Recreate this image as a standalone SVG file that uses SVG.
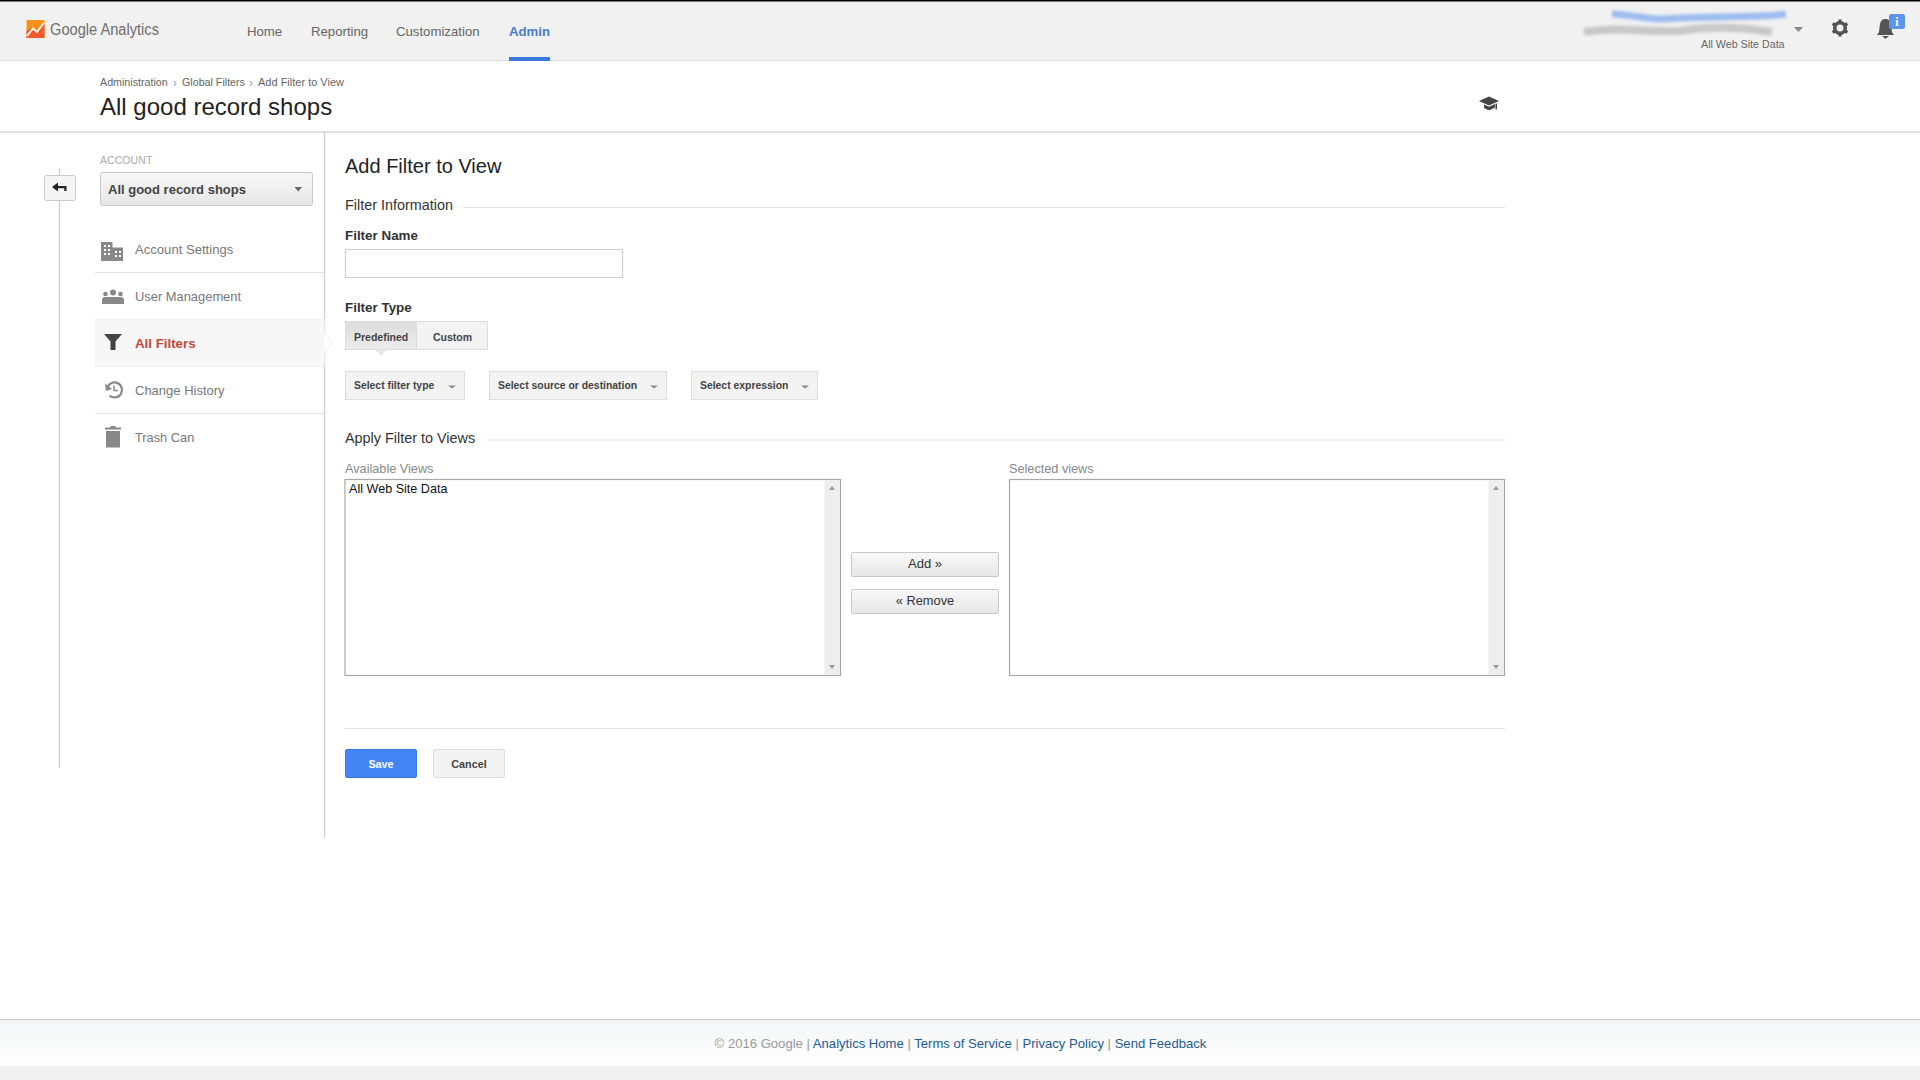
<svg xmlns="http://www.w3.org/2000/svg" width="1920" height="1080" viewBox="0 0 1920 1080">
<style>
text{font-family:"Liberation Sans",Arial,sans-serif}
.nav{font-size:13.2px;fill:#666}
.crumb{font-size:10.7px;fill:#666}
.side{font-size:13.1px;fill:#777}
.h{font-size:14.4px;fill:#333}
.lab{font-size:13.4px;font-weight:bold;fill:#333}
.btn{font-size:10.4px;font-weight:bold;fill:#444}
.sm{font-size:12.7px;fill:#888}
.rule{stroke:#e2e2e2;stroke-width:1;fill:none}
.vrule{stroke:#ccc;stroke-width:1.2;fill:none}
.dd{fill:#f3f3f3;stroke:#dcdcdc;stroke-width:1}
.gbtn{fill:url(#btnG);stroke:#c8c8c8;stroke-width:1}
.box{fill:#fff;stroke:#a8a8a8;stroke-width:1.2}
.sb{fill:#eee}
.car{fill:#888}
.sic{fill:#888}
.link{fill:#1f5a92}
</style>
<defs>
<linearGradient id="btnG" x1="0" y1="0" x2="0" y2="1"><stop offset="0" stop-color="#f8f8f8"/><stop offset="1" stop-color="#e6e6e6"/></linearGradient>
<linearGradient id="footG" x1="0" y1="0" x2="0" y2="1"><stop offset="0" stop-color="#f4f5f6"/><stop offset="1" stop-color="#fff"/></linearGradient>
<linearGradient id="predG" x1="0" y1="0" x2="0" y2="1"><stop offset="0" stop-color="#dcdcdc"/><stop offset="1" stop-color="#ececec"/></linearGradient>
<filter id="blur" x="-10%" y="-100%" width="120%" height="300%"><feGaussianBlur stdDeviation="1.8"/></filter>
</defs>
<rect width="1920" height="1080" fill="#fff"/>

<g id="header">
<rect width="1920" height="61" fill="#f1f1f1"/>
<rect width="1920" height="1.5" fill="#000"/>
<rect y="60" width="1920" height="1" fill="#ddd"/>
<g id="logo">
<rect x="26.500" y="20" width="18" height="18" fill="#f6911e"/>
<path d="M26.500 38v-7l6-3 4 3 8-9v16z" fill="#f1582c"/>
<path d="M27 36l6-7.500 4 3.500 7-9" fill="none" stroke="#fff" stroke-width="1.800"/>
<text x="50" y="35" font-size="16" fill="#6e6e6e" textLength="109" lengthAdjust="spacingAndGlyphs">Google Analytics</text>
</g>
<text class="nav" x="247" y="36">Home</text>
<text class="nav" x="311" y="36">Reporting</text>
<text class="nav" x="396" y="36">Customization</text>
<text class="nav" x="509" y="36" font-weight="bold" style="fill:#4a7bd0">Admin</text>
<rect x="509" y="57" width="41" height="4" fill="#3a78dc"/>
<g id="account-smear" filter="url(#blur)">
<path d="M1612 14C1636 15 1650 20 1665 19C1700 15 1750 19 1786 14" fill="none" stroke="#9cbcf0" stroke-width="7"/>
<path d="M1584 32C1620 26 1650 33 1680 31C1710 26 1740 27 1772 32" fill="none" stroke="#c8c8c8" stroke-width="8"/>
</g>
<text x="1701" y="48.300" font-size="10.700" fill="#666">All Web Site Data</text>
<path d="M1794 27h9l-4.500 5z" class="car"/>
<g id="gear"><circle cx="1840" cy="28" r="5.300" fill="none" stroke="#555" stroke-width="3.600"/>
<path d="M1840 19.500v3M1840 33.500v3M1832.600 23.700l2.600 1.500M1844.800 30.800l2.600 1.500M1832.600 32.300l2.600-1.500M1844.800 25.200l2.600-1.500" stroke="#555" stroke-width="3.200"/></g>
<g id="bell"><path d="M1877 35c3-3 2-6 3-11 .8-4 3-5 5.500-5s4.700 1 5.500 5c1 5 0 8 3 11z" fill="#555"/><path d="M1882 36h7l-3.500 3z" fill="#555"/>
<rect x="1889" y="14" width="16" height="15" rx="2.500" fill="#5b94ec"/><text x="1897" y="26" font-size="12" font-weight="bold" fill="#fff" text-anchor="middle" style="font-family:'Liberation Serif',serif">i</text></g>
</g>

<g id="titlebar">
<text class="crumb" x="100" y="86">Administration</text>
<path d="M174 81l2 2.500-2 2.500" fill="none" stroke="#888"/>
<text class="crumb" x="182" y="86">Global Filters</text>
<path d="M250 81l2 2.500-2 2.500" fill="none" stroke="#888"/>
<text class="crumb" x="258" y="86" style="font-size:11px">Add Filter to View</text>
<text x="100" y="115" font-size="24" fill="#222">All good record shops</text>
<path id="mortarboard" d="M1479 101l10-4.500 10 4.500-10 4.500zM1484 104.500l5 2.300 6-2.700v3.500l-5 2.400h-2l-4-2zM1495.500 103.500h1.500v6h-1.500z" fill="#444"/>
<rect y="131.500" width="1920" height="1.200" fill="#ccc"/>
</g>

<g id="sidebar">
<path class="vrule" d="M59.500 168V768M324.500 132V333M324.500 353V837"/>
<g id="back"><rect x="44.500" y="175.500" width="31" height="25" rx="2" fill="#f5f5f5" stroke="#ccc"/>
<path d="M52 187l6-4.500v3.500h8.500v5h-2.200v-2.800h-6.300v3.300z" fill="#222"/></g>
<text x="100" y="164" font-size="10.600" fill="#aaa">ACCOUNT</text>
<g id="account-select"><rect x="100.500" y="172.500" width="212" height="33" rx="2" fill="url(#btnG)" stroke="#c8c8c8"/>
<text x="108" y="194" font-size="13" font-weight="bold" fill="#444">All good record shops</text>
<path d="M294.500 187h7.500l-3.700 4.500z" fill="#666"/></g>
<path class="rule" d="M95 272.500H324M95 413.500H324"/>
<rect x="95" y="319" width="229.500" height="47.500" fill="#f7f7f7"/>
<path d="M324.500 333l8 10-8 10z" fill="#fff"/>
<path d="M95 319.500H324M95 366.500H324" fill="none" stroke="#eee"/>
<path d="M324.500 333l8 10-8 10" fill="none" stroke="#eee"/>
<g id="item-account"><path class="sic" fill-rule="evenodd" d="M101 242h11.500v5.500h10.500v13.500h-22zM104 245v2h2v-2zM108 245v2h2v-2zM104 249v2h2v-2zM108 249v2h2v-2zM104 253v2h2v-2zM108 253v2h2v-2zM115 251v2h2v-2zM119 251v2h2v-2zM115 255v2h2v-2zM119 255v2h2v-2z"/>
<text class="side" x="135" y="254">Account Settings</text></g>
<g id="item-users"><g class="sic"><circle cx="113" cy="292.500" r="3"/><circle cx="105.500" cy="294" r="2.300"/><circle cx="120.500" cy="294" r="2.300"/><path d="M102 304v-4q0-3 3-3h15q4 0 4 3v4z"/></g>
<text class="side" x="135" y="301" style="font-size:12.900px">User Management</text></g>
<g id="item-filters"><path d="M104 334h18l-6.500 7.500v8.500h-5v-8.500z" fill="#444"/>
<text x="135" y="348.300" font-size="13.300" font-weight="bold" fill="#c5473b">All Filters</text></g>
<g id="item-history"><path d="M107 390a7.500 7.500 0 1 1 2.500 5.500" fill="none" stroke="#888" stroke-width="2.200"/><path d="M105 383.500l1 7.500 6-2z" class="sic"/><path d="M114 385.500v5h4" fill="none" stroke="#888" stroke-width="1.500"/>
<text class="side" x="135" y="395" style="font-size:13px">Change History</text></g>
<g id="item-trash"><path class="sic" d="M106 431h14v16.500h-14zM105 427.500h5l1-1.500h4l1 1.500h5v2h-16z"/>
<text class="side" x="135" y="442" style="font-size:12.800px">Trash Can</text></g>
</g>

<g id="form">
<text x="345" y="172.700" font-size="20" fill="#222">Add Filter to View</text>
<text class="h" x="345" y="210">Filter Information</text>
<path class="rule" d="M463 207.500H1505"/>
<text class="lab" x="345" y="240">Filter Name</text>
<rect x="345.500" y="249.500" width="277" height="28" fill="#fff" stroke="#ccc"/>
<text class="lab" x="345" y="312">Filter Type</text>
<g id="filter-type">
<rect x="345.500" y="321.500" width="142" height="28" fill="#f3f3f3" stroke="#dcdcdc"/>
<rect x="345.500" y="321.500" width="71" height="28" fill="url(#predG)" stroke="#dcdcdc"/>
<path d="M375 349.500h12l-6 6.500z" fill="#e6e6e6"/>
<text class="btn" x="354" y="341" style="font-size:10.500px">Predefined</text>
<text class="btn" x="433" y="341" style="font-size:10.500px">Custom</text>
</g>
<g id="sel-type"><rect class="dd" x="345.500" y="371.500" width="119" height="28"/><text class="btn" x="354" y="389">Select filter type</text><path class="car" d="M448 385.500h8l-4 3z"/></g>
<g id="sel-source"><rect class="dd" x="489.500" y="371.500" width="177" height="28"/><text class="btn" x="498" y="389">Select source or destination</text><path class="car" d="M650 385.500h8l-4 3z"/></g>
<g id="sel-expr"><rect class="dd" x="691.500" y="371.500" width="126" height="28"/><text class="btn" x="700" y="389">Select expression</text><path class="car" d="M801 385.500h8l-4 3z"/></g>
<text class="h" x="345" y="442.700">Apply Filter to Views</text>
<path class="rule" d="M485.700 440H1505"/>
<text class="sm" x="345" y="472.700">Available Views</text>
<g id="avail"><rect class="box" x="345" y="479.500" width="495.500" height="196"/><rect class="sb" x="824.500" y="480" width="15.500" height="195"/>
<path d="M829 490l3-4 3 4zM829 665l3 4 3-4z" fill="#999"/>
<text x="349" y="493" font-size="12.600" fill="#111">All Web Site Data</text></g>
<g id="add"><rect class="gbtn" x="851.500" y="552.500" width="147" height="24" rx="1"/><text x="925" y="568" font-size="13" fill="#333" text-anchor="middle">Add »</text></g>
<g id="remove"><rect class="gbtn" x="851.500" y="589.500" width="147" height="24" rx="1"/><text x="925" y="605" font-size="12.800" fill="#333" text-anchor="middle">« Remove</text></g>
<text class="sm" x="1009" y="472.700">Selected views</text>
<g id="selected"><rect class="box" x="1009.500" y="479.500" width="495" height="196"/><rect class="sb" x="1488.500" y="480" width="15.500" height="195"/>
<path d="M1493 490l3-4 3 4zM1493 665l3 4 3-4z" fill="#999"/></g>
<path class="rule" d="M345 728.500H1505"/>
<g id="save"><rect x="345.500" y="749.500" width="71" height="28" rx="1.500" fill="#4385f4" stroke="#3a78dc"/><text x="381" y="768" font-size="10.800" font-weight="bold" fill="#fff" text-anchor="middle">Save</text></g>
<g id="cancel"><rect x="433.500" y="749.500" width="71" height="28" rx="1.500" fill="#f3f3f3" stroke="#dcdcdc"/><text x="469" y="768" font-size="10.800" font-weight="bold" fill="#444" text-anchor="middle">Cancel</text></g>
</g>

<g id="footer">
<rect y="1019" width="1920" height="47" fill="url(#footG)"/>
<rect y="1019" width="1920" height="1.200" fill="#ccc"/>
<rect y="1066" width="1920" height="14" fill="#f1f1f1"/>
<text x="714.600" y="1048" font-size="13.100" fill="#999">© 2016 Google | <tspan class="link">Analytics Home</tspan> | <tspan class="link">Terms of Service</tspan> | <tspan class="link">Privacy Policy</tspan> | <tspan class="link">Send Feedback</tspan></text>
</g>
<g id="connectors"/>
</svg>
